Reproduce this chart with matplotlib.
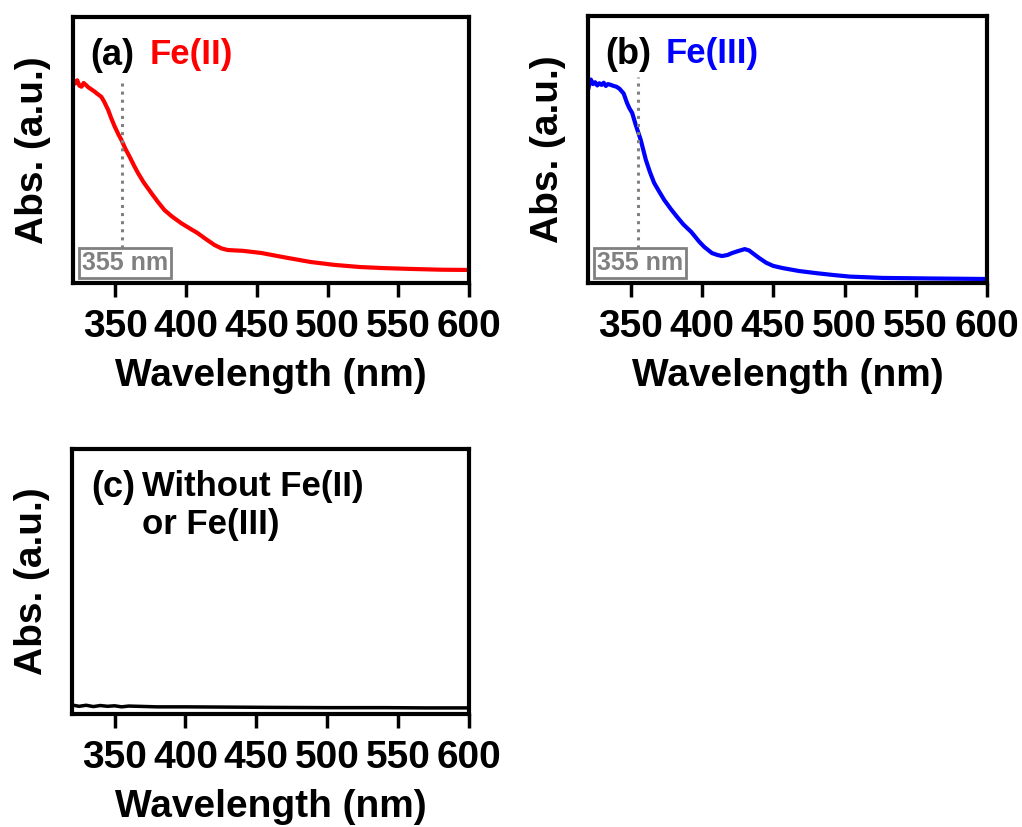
import matplotlib
matplotlib.use("Agg")
import matplotlib.pyplot as plt

# spectra (wavelength in nm, absorbance in arbitrary units)
wl_a = [320, 321.5, 323, 324.5, 326, 327.5, 329, 331, 333, 335.4, 337, 340,
        342, 344.9, 347, 349.5, 352, 354.2, 357, 360, 363, 366, 370, 375.4,
        380, 384.7, 390, 396.5, 402, 408, 414, 420, 425, 429.4, 440, 453, 470,
        488, 505, 523, 540, 558, 580, 600]
abs_a = [0.765, 0.750, 0.762, 0.742, 0.738, 0.752, 0.745, 0.735, 0.728, 0.719,
         0.712, 0.700, 0.682, 0.650, 0.620, 0.588, 0.560, 0.538, 0.505, 0.475,
         0.443, 0.413, 0.378, 0.338, 0.305, 0.274, 0.250, 0.225, 0.207, 0.188,
         0.165, 0.143, 0.130, 0.124, 0.121, 0.113, 0.096, 0.079, 0.068, 0.060,
         0.056, 0.053, 0.050, 0.049]

wl_b = [320, 321, 322, 323.5, 325, 326.5, 328, 329.5, 331, 332.5, 334, 336,
        338, 340, 342, 345, 347.4, 349, 351, 353.5, 357, 360.6, 363.5, 366.4,
        370, 373.5, 378, 382.6, 387, 392.5, 398, 401.6, 407, 410.8, 414, 418,
        421, 425, 430, 433, 435.5, 440, 445, 450, 456.5, 468, 480, 492, 503.7,
        527, 560, 600]
abs_b = [0.723, 0.745, 0.762, 0.745, 0.752, 0.740, 0.748, 0.742, 0.750, 0.738,
         0.745, 0.742, 0.738, 0.735, 0.728, 0.710, 0.674, 0.655, 0.637, 0.592,
         0.536, 0.461, 0.415, 0.375, 0.342, 0.311, 0.278, 0.247, 0.219, 0.191,
         0.155, 0.135, 0.112, 0.105, 0.101, 0.105, 0.112, 0.119, 0.127, 0.122,
         0.112, 0.094, 0.076, 0.064, 0.056, 0.045, 0.037, 0.030, 0.024, 0.019,
         0.017, 0.015]

wl_c = [320, 325, 330, 335, 340, 345, 350, 355, 360, 380, 400, 430, 460, 500,
        540, 570, 600]
abs_c = [0.034, 0.029, 0.033, 0.028, 0.032, 0.029, 0.031, 0.027, 0.030, 0.027,
         0.027, 0.026, 0.025, 0.024, 0.024, 0.023, 0.023]

xticks = [350, 400, 450, 500, 550, 600]
marker_wl = 355

plt.rcParams['font.family'] = ['Liberation Sans', 'DejaVu Sans']
plt.rcParams['font.weight'] = 'bold'

fig = plt.figure(figsize=(10.22, 8.27), dpi=100)
W, H = 1022, 827


def make_axes(x0, y0, x1, y1):
    ax = fig.add_axes([x0 / W, 1 - y1 / H, (x1 - x0) / W, (y1 - y0) / H])
    for s in ax.spines.values():
        s.set_linewidth(3)
    ax.set_xlim(320, 600)
    ax.set_ylim(0, 1)
    ax.set_xticks(xticks)
    ax.set_yticks([])
    ax.tick_params(axis='x', direction='out', length=10, width=2.5,
                   labelsize=28, pad=9)
    for lab in ax.get_xticklabels():
        lab.set_fontweight('bold')
    ax.set_xlabel("Wavelength (nm)", fontsize=28, fontweight='bold', labelpad=9)
    ax.set_ylabel("Abs. (a.u.)", fontsize=28, fontweight='bold', labelpad=16)
    return ax


def add_marker(ax):
    ax.axvline(marker_wl, ymin=0.13, ymax=0.77, color='gray', ls=':', lw=2.2)
    ax.text(0.131, 0.075, "355 nm", transform=ax.transAxes, fontsize=18,
            fontweight='bold', color='gray', ha='center', va='center',
            bbox=dict(boxstyle='square,pad=0.12', fc='white', ec='gray', lw=2))


ax1 = make_axes(73, 17, 469, 283)
ax1.plot(wl_a, abs_a, color='red', lw=3)
add_marker(ax1)
ax1.text(0.043, 0.92, "(a)", transform=ax1.transAxes, fontsize=26,
         fontweight='bold', va='top')
ax1.text(0.194, 0.92, "Fe(II)", transform=ax1.transAxes, fontsize=25,
         fontweight='bold', va='top', color='red')

ax2 = make_axes(588, 16, 987, 283)
ax2.plot(wl_b, abs_b, color='blue', lw=3)
add_marker(ax2)
ax2.text(0.043, 0.92, "(b)", transform=ax2.transAxes, fontsize=26,
         fontweight='bold', va='top')
ax2.text(0.194, 0.92, "Fe(III)", transform=ax2.transAxes, fontsize=25,
         fontweight='bold', va='top', color='blue')

ax3 = make_axes(72, 449, 469, 714)
ax3.plot(wl_c, abs_c, color='black', lw=2.5)
ax3.text(0.048, 0.92, "(c)", transform=ax3.transAxes, fontsize=26,
         fontweight='bold', va='top')
ax3.text(0.176, 0.92, "Without Fe(II)\nor Fe(III)", transform=ax3.transAxes,
         fontsize=25, fontweight='bold', va='top', linespacing=1.2)

fig.savefig("out.png", dpi=100)
